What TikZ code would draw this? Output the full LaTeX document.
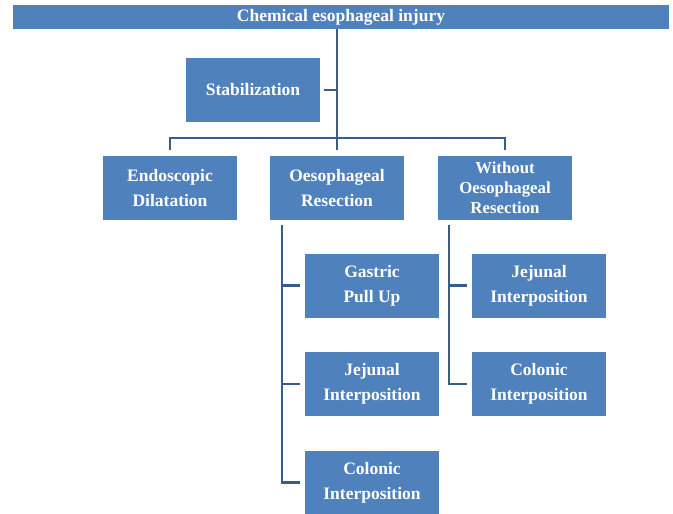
\documentclass[tikz,border=0pt]{standalone}
\usepackage{fontspec}
\setmainfont{Liberation Serif}
\usepackage{tikz}

\definecolor{boxblue}{HTML}{4F81BD}
\definecolor{lineblue}{HTML}{385D8A}

\begin{document}
\begin{tikzpicture}[
    x = 1pt,
    y = -1pt,
    stage/.style = {fill = boxblue,
      text = white,
      align = center,
      inner sep = 0pt,
      font = \fontsize{17.5}{25}\selectfont\bfseries},
    banner/.style = {minimum width = {656pt},
      minimum height = {24pt}},
    option/.style = {minimum width = {134pt},
      minimum height = {64pt}},
    tight/.style = {font = \fontsize{16.8}{20}\selectfont\bfseries},
    link/.style = {draw = lineblue,
      line width = 2.2pt},
    ]

    \useasboundingbox (0, 0) rectangle (673, 514);

    \node at (341, 17)
    [stage, banner, name = inj] {Chemical esophageal injury};

    \node at (253, 90)
    [stage, option, name = stab] {Stabilization};

    \node at (170, 188)
    [stage, option, name = endo] {Endoscopic\\Dilatation};
    \node at (337, 188)
    [stage, option, name = resec] {Oesophageal\\Resection};
    \node at (505, 188)
    [stage, option, tight, name = nonresec] {Without\\Oesophageal\\Resection};

    \node at (372, 285.5)
    [stage, option, name = resec_gastric] {Gastric\\Pull Up};
    \node at (372, 384)
    [stage, option, name = resec_jejunal] {Jejunal\\Interposition};
    \node at (372, 482.5)
    [stage, option, name = resec_colonic] {Colonic\\Interposition};

    \node at (539, 285.5)
    [stage, option, name = non_jejunal] {Jejunal\\Interposition};
    \node at (539, 384)
    [stage, option, name = non_colonic] {Colonic\\Interposition};

    \draw [link, shorten >= 6pt] (resec.north |- inj.south) to (resec.north);
    \draw [link, shorten <= 4pt] (stab.east) to (stab.east -| resec.north);
    \draw [link, shorten <= 6pt, shorten >= 6pt]
    (endo.north) -- ++(0, -18) -| (nonresec.north);

    \coordinate [xshift = 12pt] (resec_line) at (resec.south west);
    \draw [link, shorten >= 5pt]
    ([yshift = -5pt] resec_line) |- (resec_colonic.west);
    \draw [link, shorten >= 5pt] (resec_gastric.west -| resec_line) to (resec_gastric.west);
    \draw [link, shorten >= 5pt] (resec_jejunal.west -| resec_line) to (resec_jejunal.west);

    \coordinate [xshift = 11pt] (non_line) at (nonresec.south west);
    \draw [link, shorten >= 5pt]
    ([yshift = -5pt] non_line) |- (non_colonic.west);
    \draw [link, shorten >= 5pt] (non_jejunal.west -| non_line) to (non_jejunal.west);
  \end{tikzpicture}
\end{document}
